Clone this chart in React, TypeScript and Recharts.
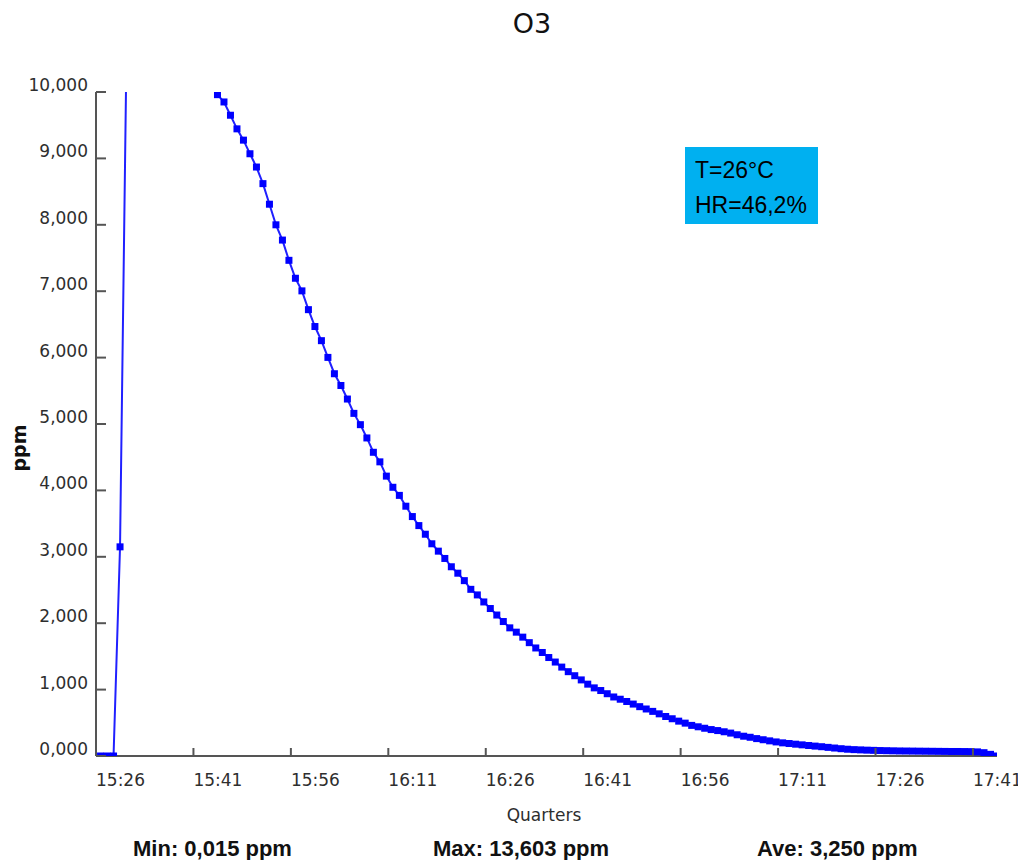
import { Line, LineChart, XAxis, YAxis } from 'recharts'

// O3 ppm, one reading per minute, first reading 0.7 min after 15:26
const START_MIN = 0.7
const O3_PPM = [
  0.03, 0.015, 0.02, 3150, 10650, 12400, 13300, 13603, 13480, 13240,
  12950, 12620, 12260, 11880, 11490, 11100, 10700, 10300, 9960, 9850,
  9650, 9445, 9275, 9070, 8870, 8620, 8310, 8000, 7770, 7465,
  7195, 7005, 6722, 6468, 6255, 6003, 5757, 5580, 5376, 5160,
  4990, 4790, 4574, 4430, 4215, 4047, 3925, 3762, 3606, 3470,
  3340, 3196, 3085, 2975, 2850, 2753, 2641, 2510, 2426, 2320,
  2221, 2123, 2025, 1930, 1865, 1790, 1707, 1627, 1559, 1483,
  1415, 1339, 1270, 1209, 1146, 1082, 1026, 986, 938, 889,
  855, 821, 782, 743, 708, 672, 635, 595, 561, 525,
  495, 461, 440, 418, 398, 383, 365, 345, 320, 298,
  282, 262, 245, 228, 212, 198, 188, 178, 168, 158,
  149, 140, 130, 120, 110, 102, 96, 92, 88, 85,
  82, 80, 78, 76, 75, 74, 73, 72, 71, 70,
  69, 68, 68, 67, 66, 62, 50, 25, 0.05,
]

const X_TICKS = [0, 15, 30, 45, 60, 75, 90, 105, 120, 135]
const X_LABELS = ['15:26', '15:41', '15:56', '16:11', '16:26', '16:41', '16:56', '17:11', '17:26', '17:41']
const X_MAX = 138.7

const Y_TICKS = [0, 1000, 2000, 3000, 4000, 5000, 6000, 7000, 8000, 9000, 10000]
const Y_LABELS = ['0,000', '1,000', '2,000', '3,000', '4,000', '5,000', '6,000', '7,000', '8,000', '9,000', '10,000']

const FOOTER = ['Min: 0,015 ppm', 'Max: 13,603 ppm', 'Ave: 3,250 ppm']
const NOTE = ['T=26°C', 'HR=46,2%']

const W = 1018
const H = 852
const CH = 800
const PLOT_L = 88
const PLOT_R = 989
const PLOT_T = 84
const PLOT_B = 748
const AXIS = '#555'
const TEXT = '#2e2e2e'
const TICK_FONT = 'DejaVu Sans, sans-serif'
const BLUE = '#0000ff'

const data = O3_PPM.map((ppm, i) => ({ m: START_MIN + i, ppm }))

function YTick(props: any) {
  const { y, payload } = props
  const label = Y_LABELS[Y_TICKS.indexOf(payload.value)]
  return (
    <g>
      <line x1={PLOT_L} x2={PLOT_L + 10} y1={y} y2={y} stroke={AXIS} strokeWidth={2} />
      <text x={PLOT_L - 8} y={y - 1} textAnchor="end" fontSize={17}
        fontFamily={TICK_FONT} fill={TEXT}>{label}</text>
    </g>
  )
}

function XTick(props: any) {
  const { x, payload } = props
  const label = X_LABELS[X_TICKS.indexOf(payload.value)]
  return (
    <g>
      <line x1={x} x2={x} y1={PLOT_B} y2={PLOT_B - 8} stroke={AXIS} strokeWidth={2} />
      <text x={x} y={PLOT_B + 30} textAnchor="start" fontSize={17}
        fontFamily={TICK_FONT} fill={TEXT}>{label}</text>
    </g>
  )
}

function SquareDot(props: any) {
  const { cx, cy, index } = props
  if (cx == null || cy == null) return <g key={index} />
  return <rect key={index} x={cx - 3.5} y={cy - 3.5} width={7} height={7} fill={BLUE} />
}

export default function App() {
  return (
    <div style={{ position: 'relative', width: W, height: H }}>
      <LineChart
        width={W}
        height={CH}
        data={data}
        margin={{ top: PLOT_T, right: W - PLOT_R, bottom: CH - PLOT_B - 45, left: PLOT_L - 80 }}
      >
        <XAxis dataKey="m" type="number" domain={[0, X_MAX]} ticks={X_TICKS} interval={0}
          allowDataOverflow height={45} tickLine={false}
          axisLine={{ stroke: AXIS, strokeWidth: 2 }} tick={(p: any) => <XTick {...p} />} />
        <YAxis type="number" domain={[0, 10000]} ticks={Y_TICKS} interval={0}
          allowDataOverflow width={80} tickLine={false}
          axisLine={{ stroke: AXIS, strokeWidth: 2 }} tick={(p: any) => <YTick {...p} />} />
        <Line type="linear" dataKey="ppm" stroke="#2020ff" strokeWidth={2}
          dot={(p: any) => <SquareDot {...p} />} activeDot={false}
          isAnimationActive={false} />
      </LineChart>
      <svg width={W} height={H} style={{ position: 'absolute', left: 0, top: 0, pointerEvents: 'none' }}>
        <text x={524} y={25} textAnchor="middle" fontSize={27} fontFamily={TICK_FONT} fill="#111">O3</text>
        <text x={18} y={440} textAnchor="middle" fontSize={19} fontWeight="bold"
          fontFamily={TICK_FONT} fill="#111" transform="rotate(-90 18 440)">ppm</text>
        <text x={536} y={813} textAnchor="middle" fontSize={17} fontFamily={TICK_FONT} fill={TEXT}>Quarters</text>
        <rect x={677} y={139} width={133} height={77} fill="#00b0f0" />
        <text x={687} y={170} fontSize={23} fontFamily="Liberation Sans, Arial, sans-serif" fill="#000">{NOTE[0]}</text>
        <text x={687} y={205} fontSize={23} fontFamily="Liberation Sans, Arial, sans-serif" fill="#000">{NOTE[1]}</text>
        {FOOTER.map((t, i) => (
          <text key={t} x={[125, 425, 749][i]} y={848} fontSize={22} fontWeight="bold"
            fontFamily="Liberation Sans, Arial, sans-serif" fill="#111">{t}</text>
        ))}
      </svg>
    </div>
  )
}
